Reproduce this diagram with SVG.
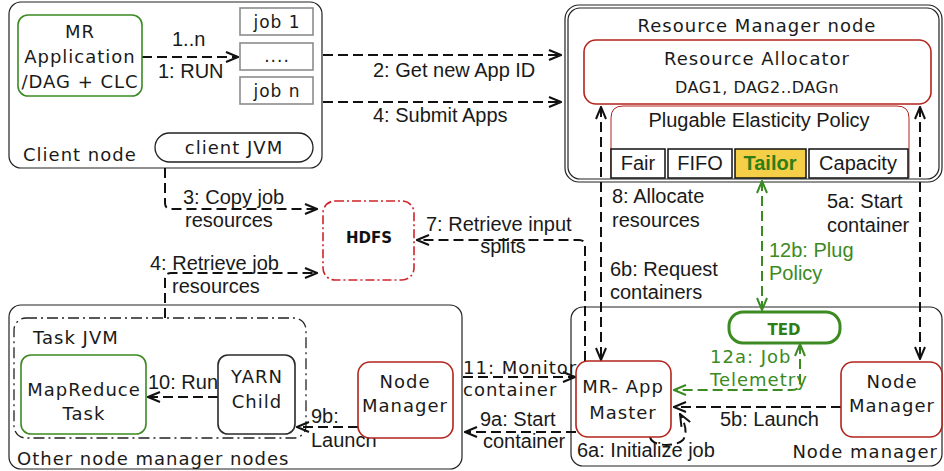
<svg xmlns="http://www.w3.org/2000/svg" width="944" height="471" viewBox="0 0 944 471">
  <style>
    .cg { font-family: "DejaVu Sans", "Noto Sans", sans-serif; font-size: 18px; letter-spacing: 1px; fill: #1a1a1a; }
    .hv { font-family: "Liberation Sans", Arial, sans-serif; font-size: 20px; fill: #1a1a1a; }
    .mid { text-anchor: middle; }
    .grn { fill: #3b8a22; }
    .box { fill: none; stroke: #222; stroke-width: 1.2; }
    .node { fill: #fff; stroke-width: 1.6; }
    .red { stroke: #b3241c; }
    .gbox { stroke: #3b8a22; }
    .blk { stroke: #2a2a2a; }
    .job { fill: #fff; stroke: #8c8c8c; stroke-width: 1.6; }
    .cell { fill: #fff; stroke: #111; stroke-width: 1.5; }
    .dash { fill: none; stroke: #111; stroke-width: 2; stroke-dasharray: 10 5; }
    .gdash { fill: none; stroke: #3b8a22; stroke-width: 2; stroke-dasharray: 10 5; }
    .arr { marker-end: url(#ah); }
    .arr2 { marker-start: url(#ah); marker-end: url(#ah); }
    .garr2 { marker-start: url(#gah); marker-end: url(#gah); }
  </style>
  <defs>
    <marker id="ah" viewBox="0 0 14 12" refX="13" refY="6" markerWidth="14" markerHeight="12" markerUnits="userSpaceOnUse" orient="auto-start-reverse">
      <path d="M1,1 L13,6 L1,11" fill="none" stroke="#111" stroke-width="2" stroke-dasharray="none"/>
    </marker>
    <marker id="gah" viewBox="0 0 14 12" refX="13" refY="6" markerWidth="14" markerHeight="12" markerUnits="userSpaceOnUse" orient="auto-start-reverse">
      <path d="M1,1 L13,6 L1,11" fill="none" stroke="#3b8a22" stroke-width="2" stroke-dasharray="none"/>
    </marker>
  </defs>

  <!-- Containers -->
  <g id="client-node">
    <rect class="box" x="9" y="2" width="313" height="166" rx="12"/>
    <text class="cg" x="23" y="161">Client node</text>
  </g>
  <g id="rm-node">
    <rect class="box" x="565" y="5" width="377" height="177" rx="14"/>
    <rect class="box" x="568" y="8" width="371" height="171" rx="12"/>
    <text class="cg mid" x="757" y="32">Resource Manager node</text>
  </g>
  <g id="other-nm-nodes">
    <rect class="box" x="9" y="305" width="453" height="164" rx="12"/>
    <text class="cg" x="17" y="465">Other node manager nodes</text>
  </g>
  <g id="task-jvm">
    <rect x="14" y="318" width="292" height="120" rx="12" fill="none" stroke="#222" stroke-width="1.3" stroke-dasharray="11 4 2 4"/>
    <text class="cg" x="33" y="344">Task JVM</text>
  </g>
  <g id="nm-node">
    <rect class="box" x="571" y="307" width="371" height="159" rx="12"/>
    <text class="cg" x="938" y="458" text-anchor="end">Node manager</text>
  </g>

  <!-- Connectors -->
  <g id="connectors">
    <path class="dash arr" d="M142,57 H238"/>
    <path class="dash arr" d="M323,55 H561"/>
    <path class="dash arr" d="M323,102 H561"/>
    <path class="dash arr" d="M165,168 V203 Q165,209 171,209 H317"/>
    <path class="dash arr" d="M165,318 V279 Q165,273 171,273 H317"/>
    <path class="dash arr" d="M585,361 V246 Q585,240 579,240 H417"/>
    <path class="dash arr2" d="M601,107 V360"/>
    <path class="dash arr2" d="M920,107 V359"/>
    <path class="gdash garr2" d="M762,181 V310"/>
    <path class="gdash garr2" d="M800,344 V382 Q800,390 792,390 H674"/>
    <path class="dash arr" d="M841,407 H674"/>
    <path class="dash arr" d="M650,437 C652,447 676,447 683,440 C688,433 685,423 680,414"/>
    <path class="dash arr" d="M463,377 H575"/>
    <path class="dash arr" d="M576,432 H465"/>
    <path class="dash arr" d="M358,427 H297"/>
    <path class="dash arr" d="M218,397 H148"/>

    <text class="hv" x="172" y="46">1..n</text>
    <text class="hv" x="158" y="78">1: RUN</text>
    <text class="hv" x="373" y="77">2: Get new App ID</text>
    <text class="hv" x="373" y="122">4: Submit Apps</text>
    <text class="hv" x="183" y="204">3: Copy job</text>
    <text class="hv" x="185" y="227">resources</text>
    <text class="hv" x="150" y="270">4: Retrieve job</text>
    <text class="hv" x="172" y="293">resources</text>
    <text class="hv" x="426" y="231">7: Retrieve input</text>
    <text class="hv mid" x="503" y="253">splits</text>
    <text class="hv" x="612" y="203">8: Allocate</text>
    <text class="hv" x="612" y="227">resources</text>
    <text class="hv" x="610" y="276">6b: Request</text>
    <text class="hv" x="610" y="299">containers</text>
    <text class="hv" x="827" y="208">5a: Start</text>
    <text class="hv" x="827" y="232">container</text>
    <text class="hv grn" x="769" y="257">12b: Plug</text>
    <text class="hv grn" x="769" y="280">Policy</text>
    <text class="cg grn" x="710" y="363">12a: Job</text>
    <text class="cg grn" x="710" y="386">Telemetry</text>
    <text class="hv" x="720" y="426">5b: Launch</text>
    <text class="hv" x="577" y="457">6a: Initialize job</text>
    <text class="cg" x="463" y="374">11: Monitor</text>
    <text class="cg" x="463" y="396">container</text>
    <text class="hv" x="480" y="426">9a: Start</text>
    <text class="hv" x="483" y="448">container</text>
    <text class="hv" x="311" y="423">9b:</text>
    <text class="hv" x="311" y="447">Launch</text>
    <text class="hv" x="148" y="389">10: Run</text>
  </g>

  <!-- Nodes -->
  <g id="mr-application">
    <rect class="node gbox" x="18" y="15" width="124" height="81" rx="10"/>
    <text class="cg mid" x="80" y="38">MR</text>
    <text class="cg mid" x="80" y="63">Application</text>
    <text class="cg mid" x="80" y="88">/DAG + CLC</text>
  </g>
  <g id="job-1">
    <rect class="job" x="240" y="8" width="73" height="27"/>
    <text class="cg mid" x="277" y="28" style="font-size:17px">job 1</text>
  </g>
  <g id="job-dots">
    <rect class="job" x="240" y="43" width="73" height="27"/>
    <text class="cg mid" x="277" y="62" style="font-size:17px">....</text>
  </g>
  <g id="job-n">
    <rect class="job" x="240" y="77" width="73" height="27"/>
    <text class="cg mid" x="277" y="97" style="font-size:17px">job n</text>
  </g>
  <g id="client-jvm">
    <rect x="155" y="133" width="158" height="29" rx="14.5" fill="#fff" stroke="#222" stroke-width="1.3"/>
    <text class="cg mid" x="234" y="154">client JVM</text>
  </g>
  <g id="hdfs">
    <rect x="323" y="201" width="91" height="79" rx="12" fill="#fff" stroke="#d0242a" stroke-width="1.6" stroke-dasharray="9 3 2 3"/>
    <text class="mid" x="369" y="243" style="font-family:'DejaVu Sans',sans-serif;font-weight:bold;font-size:15px;fill:#111">HDFS</text>
  </g>
  <g id="resource-allocator">
    <rect class="node red" x="584" y="40" width="347" height="64" rx="12"/>
    <text class="cg mid" x="757" y="65">Resource Allocator</text>
    <text class="cg mid" x="757" y="93" style="font-size:16px;letter-spacing:0.5px">DAG1, DAG2..DAGn</text>
  </g>
  <g id="elasticity-policy">
    <path d="M611,178 V118 Q611,106 623,106 H897 Q909,106 909,118 V178" fill="#fff" stroke="#b3241c" stroke-width="1"/>
    <text class="hv mid" x="759" y="127">Plugable Elasticity Policy</text>
  </g>
  <g id="policy-fair">
    <rect class="cell" x="611" y="149" width="54" height="29"/>
    <text class="hv mid" x="638" y="170">Fair</text>
  </g>
  <g id="policy-fifo">
    <rect class="cell" x="668" y="149" width="64" height="29"/>
    <text class="hv mid" x="700" y="170">FIFO</text>
  </g>
  <g id="policy-tailor">
    <rect class="cell" x="735" y="149" width="71" height="29" style="fill:#f5cf48"/>
    <text class="hv mid grn" x="770" y="170" style="font-weight:bold;fill:#2f7d17">Tailor</text>
  </g>
  <g id="policy-capacity">
    <rect class="cell" x="809" y="149" width="99" height="29"/>
    <text class="hv mid" x="858" y="170">Capacity</text>
  </g>
  <g id="ted">
    <rect x="729" y="312" width="111" height="31" rx="14" fill="#fff" stroke="#3b8a22" stroke-width="3"/>
    <text class="mid" x="784" y="335" style="font-family:'DejaVu Sans',sans-serif;font-weight:bold;font-size:15px;fill:#2f7d17">TED</text>
  </g>
  <g id="mr-app-master">
    <rect class="node red" x="576" y="361" width="95" height="76" rx="12"/>
    <text class="cg mid" x="623" y="393">MR- App</text>
    <text class="cg mid" x="623" y="419">Master</text>
  </g>
  <g id="node-manager-main">
    <rect class="node red" x="841" y="362" width="101" height="75" rx="12"/>
    <text class="cg mid" x="892" y="388">Node</text>
    <text class="cg mid" x="892" y="412">Manager</text>
  </g>
  <g id="node-manager-other">
    <rect class="node red" x="358" y="362" width="95" height="76" rx="12"/>
    <text class="cg mid" x="405" y="388">Node</text>
    <text class="cg mid" x="405" y="412">Manager</text>
  </g>
  <g id="mapreduce-task">
    <rect class="node gbox" x="21" y="355" width="125" height="79" rx="10"/>
    <text class="cg mid" x="84" y="396">MapReduce</text>
    <text class="cg mid" x="84" y="420">Task</text>
  </g>
  <g id="yarn-child">
    <rect class="node blk" x="218" y="355" width="77" height="79" rx="10"/>
    <text class="cg mid" x="257" y="383">YARN</text>
    <text class="cg mid" x="257" y="408">Child</text>
  </g>
</svg>
